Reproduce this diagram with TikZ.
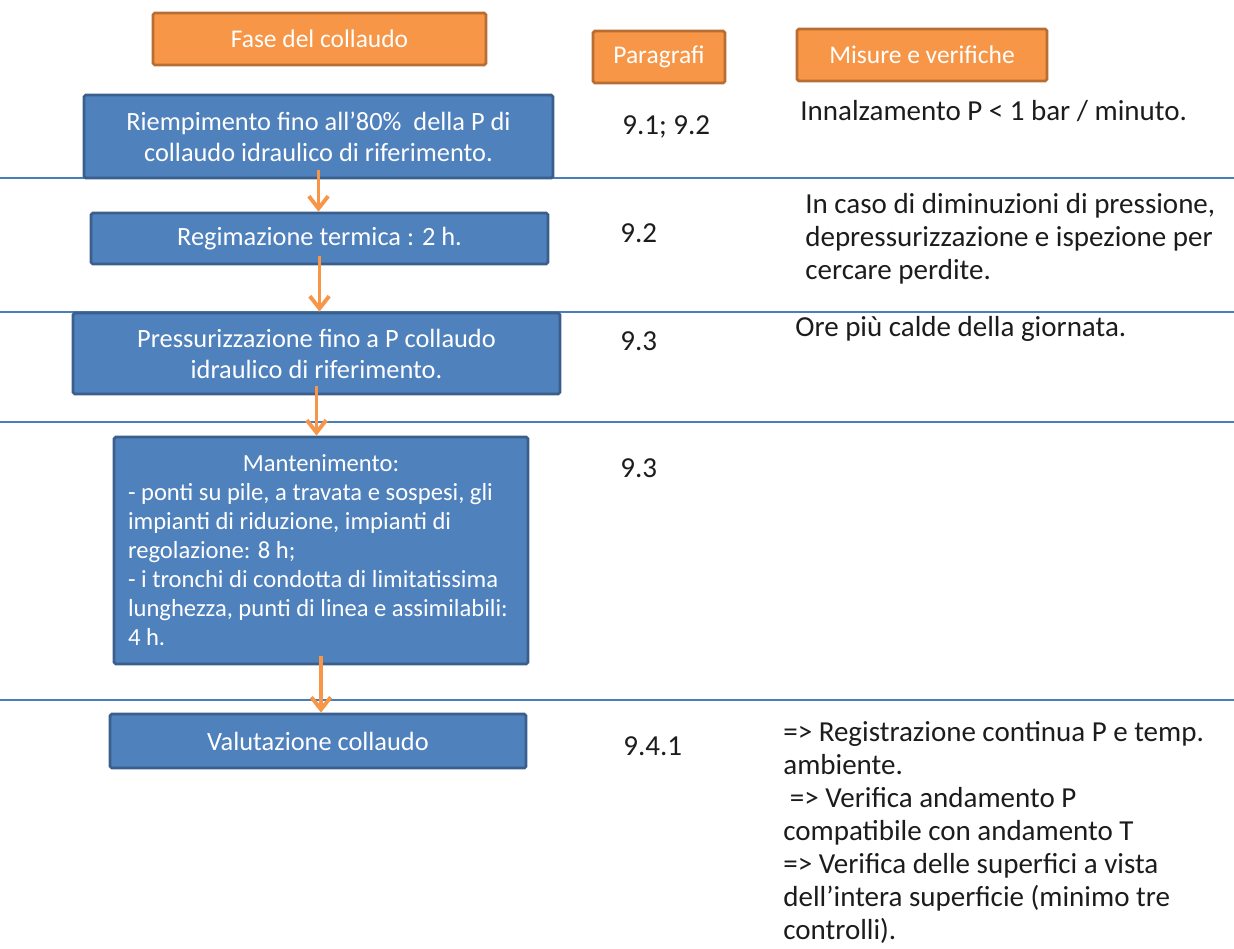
\documentclass[tikz,border=0pt]{standalone}
\usepackage{fontspec}
\setmainfont{Carlito}
\usepackage{xcolor}
\usetikzlibrary{arrows.meta}
\definecolor{blu}{HTML}{4F81BD}
\definecolor{blubordo}{HTML}{3A5F8C}
\definecolor{arancio}{HTML}{F79646}
\definecolor{aranciobordo}{HTML}{B86D32}
\definecolor{riga}{HTML}{4A7EBB}
\definecolor{testo}{HTML}{1C1C1C}

\begin{document}
\begin{tikzpicture}[
					fase/.style = {shape=rectangle, rounded corners=1pt, draw=blubordo,
						line width=1.6pt, fill=blu, text=white, align=center, inner sep=2pt,
						font=\fontsize{15}{17.6}\selectfont},
					titolo/.style = {shape=rectangle, rounded corners=1pt, draw=aranciobordo,
						line width=1.6pt, fill=arancio, text=white, align=center,
						minimum height=1.04cm, font=\fontsize{14.5}{16}\selectfont},
					para/.style = {anchor=base west, inner sep=0pt, text=testo,
						font=\fontsize{16.5}{18.8}\selectfont},
					nota/.style = {anchor=north west, inner sep=0pt, align=left, text=testo,
						font=\fontsize{16.5}{18.8}\selectfont},
					freccia/.style = {draw=arancio, line width=2.2pt, shorten <=-0.18cm,
						-{Straight Barb[length=7pt, width=11pt, line width=2.2pt]}},
					divisore/.style = {draw=riga, line width=0.8pt}]
	\useasboundingbox (0,0) rectangle (24.68,-18.96);
	\foreach \y in {3.56,6.24,8.44,14.0}
		\draw[divisore] (0,-\y) -- (24.68,-\y);
	\node[titolo, minimum width=6.66cm] (tfase) at (6.39,-0.78) {Fase del collaudo};
	\node[titolo, minimum width=2.64cm] (tpara) at (13.18,-1.14) {Paragrafi};
	\node[titolo, minimum width=5.0cm] (tmisure) at (18.44,-1.10) {Misure e verifiche};
	\node[fase, minimum width=9.38cm, minimum height=1.66cm] (riemp) at (6.37,-2.73)
		{Riempimento fino all’80\%\ \ della P di \\ collaudo idraulico di riferimento.};
	\node[fase, minimum width=9.14cm, minimum height=1.02cm] (regim) at (6.39,-4.77)
		{Regimazione termica : 2 h.};
	\node[fase, minimum width=9.74cm, minimum height=1.62cm] (press) at (6.33,-7.07)
		{Pressurizzazione fino a P collaudo \\ idraulico di riferimento.};
	\node[fase, minimum height=4.54cm, text width=7.72cm, inner xsep=0.28cm, align=flush left,
		font=\fontsize{14}{16.5}\selectfont] (mant) at (6.42,-11.01)
		{\centerline{Mantenimento:}
		- ponti su pile, a travata e sospesi, gli \\ impianti di riduzione, impianti di \\
		regolazione: 8 h; \\ - i tronchi di condotta di limitatissima \\
		lunghezza, punti di linea e assimilabili: \\ 4 h.};
	\node[fase, minimum width=8.32cm, minimum height=1.08cm] (valut) at (6.36,-14.82)
		{Valutazione collaudo};
	\draw[freccia] (riemp.south) -- (riemp.south |- regim.north);
	\draw[freccia] (regim.south) -- (regim.south |- press.north);
	\draw[freccia] (press.south) -- (press.south |- mant.north);
	\draw[freccia] (mant.south) -- (mant.south |- valut.north);
	\node[para] (p1) at (12.44,-2.68) {9.1; 9.2};
	\node[para] (p2) at (12.40,-4.84) {9.2};
	\node[para] (p3) at (12.40,-7.0) {9.3};
	\node[para] (p4) at (12.40,-9.54) {9.3};
	\node[para] (p5) at (12.46,-15.1) {9.4.1};
	\node[nota] (m1) at (16.0,-2.0) {Innalzamento P < 1 bar / minuto.};
	\node[nota] (m2) at (16.1,-3.86) {In caso di diminuzioni di pressione, \\
		depressurizzazione e ispezione per \\ cercare perdite.};
	\node[nota] (m3) at (15.9,-6.32) {Ore più calde della giornata.};
	\node[nota] (m4) at (15.66,-14.42) {=> Registrazione continua P e temp. \\ ambiente. \\
		\ => Verifica andamento P \\ compatibile con andamento T \\
		=> Verifica delle superfici a vista \\ dell’intera superficie (minimo tre \\
		controlli).};
\end{tikzpicture}
\end{document}
